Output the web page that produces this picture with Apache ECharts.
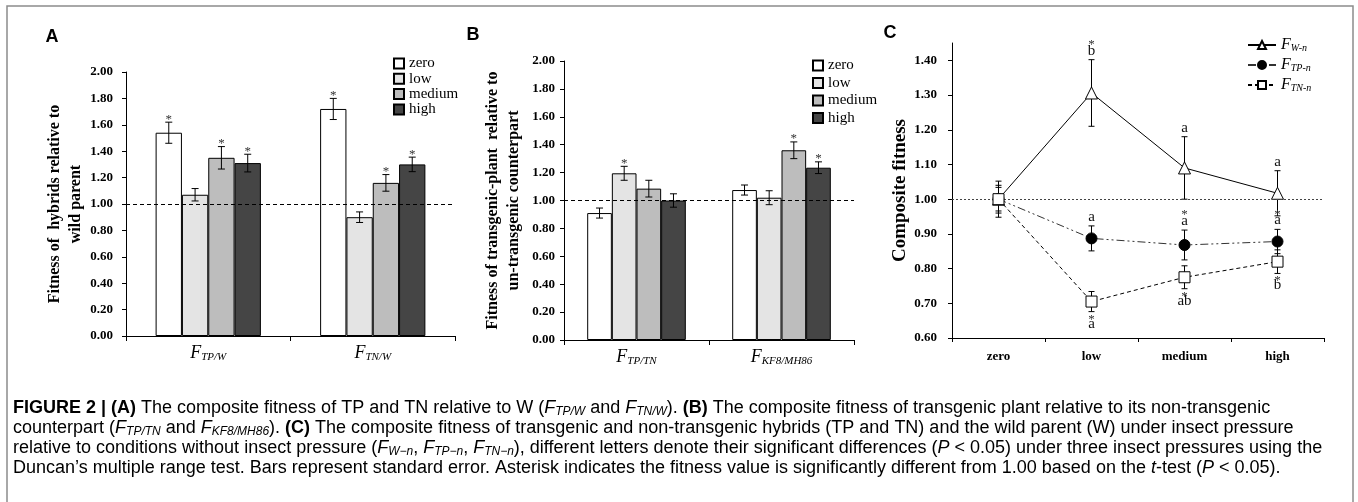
<!DOCTYPE html>
<html>
<head>
<meta charset="utf-8">
<script src="https://cdn.jsdelivr.net/npm/echarts@6/dist/echarts.min.js"></script>
<style>
  html, body { margin: 0; padding: 0; background: #fff; }
  #main { width: 1358px; height: 502px; }
</style>
</head>
<body>
<div id="main"></div>
<script>
// insect pressure levels (bar groups in A and B, x categories in C)
const levels = ['zero', 'low', 'medium', 'high'];
const levelColors = ['#ffffff', '#e4e4e4', '#bdbdbd', '#454545'];

// panel A: rows follow levels, columns follow catsA
const catsA = ['TP/W', 'TN/W'];
const fitA  = [[1.54, 1.72], [1.07, 0.90], [1.35, 1.16], [1.31, 1.30]];
const errA  = [[0.08, 0.08], [0.047, 0.04], [0.085, 0.063], [0.067, 0.055]];
const starA = [[1, 1], [0, 0], [1, 1], [1, 1]];

// panel B
const catsB = ['TP/TN', 'KF8/MH86'];
const fitB  = [[0.91, 1.075], [1.195, 1.02], [1.085, 1.36], [1.00, 1.235]];
const errB  = [[0.036, 0.036], [0.05, 0.05], [0.06, 0.06], [0.048, 0.042]];
const starB = [[0, 0], [1, 0], [0, 1], [0, 1]];

// panel C
const namesC = ['W-n', 'TP-n', 'TN-n'];
const fitW = [1.00, 1.306, 1.09, 1.017];
const errW = [0.052, 0.096, 0.09, 0.065];
const letW = ['', 'b', 'a', 'a'];
const starW = [0, 1, 0, 0];
const fitTP = [1.00, 0.887, 0.868, 0.878];
const errTP = [0.04, 0.036, 0.043, 0.035];
const letTP = ['', 'a', 'a', 'a'];
const starTP = [0, 0, 1, 1];
const fitTN = [1.00, 0.705, 0.775, 0.82];
const errTN = [0.034, 0.029, 0.033, 0.034];
const letTN = ['', 'a', 'ab', 'b'];
const starTN = [0, 1, 1, 1];

const yTicksC = [0.6, 0.7, 0.8, 0.9, 1.0, 1.1, 1.2, 1.3, 1.4];

const SERIF = '"Liberation Serif", "Times New Roman", serif';
const SANS = '"Liberation Sans", Arial, sans-serif';

var chart = echarts.init(document.getElementById('main'));

const subRich = {
    f: { fontFamily: SERIF, fontStyle: 'italic', fontSize: 18, lineHeight: 20, color: '#000' },
    s: { fontFamily: SERIF, fontStyle: 'italic', fontSize: 11, lineHeight: 10, verticalAlign: 'bottom', color: '#000' }
};

function barAxes(gi, cats, name, nameGap, labelMargin) {
    const x = {
        gridIndex: gi, type: 'category', data: cats,
        axisLine: { show: true, lineStyle: { color: '#000', width: 1 } },
        axisTick: { show: true, length: 5, lineStyle: { color: '#000' } },
        axisLabel: { margin: 7, formatter: v => '{f|F}{s|' + v + '}', rich: subRich },
        splitLine: { show: false }
    };
    const y = {
        gridIndex: gi, type: 'value', min: 0, max: 2, interval: 0.2,
        axisLine: { show: true, lineStyle: { color: '#000', width: 1 } },
        axisTick: { show: true, length: 4, lineStyle: { color: '#000' } },
        splitLine: { show: false },
        axisLabel: { margin: labelMargin, formatter: v => v.toFixed(2), color: '#000',
            fontFamily: SERIF, fontWeight: 'bold', fontSize: 13 },
        name: name, nameLocation: 'middle', nameRotate: 90, nameGap: nameGap,
        nameTextStyle: { fontFamily: SERIF, fontWeight: 'bold', fontSize: 16, lineHeight: 21, color: '#000' }
    };
    return [x, y];
}

function barSeries(gi, fits, gap) {
    return fits.map((row, g) => {
        const s = {
            name: levels[g], type: 'bar', xAxisIndex: gi, yAxisIndex: gi,
            data: row, barGap: '0%', barCategoryGap: gap,
            itemStyle: { color: levelColors[g], borderColor: '#000', borderWidth: 1 },
            silent: true
        };
        if (g === 0) {
            s.markLine = {
                silent: true, symbol: ['none', 'none'], label: { show: false },
                lineStyle: { color: '#000', width: 1, type: [4, 3] },
                data: [{ yAxis: 1 }]
            };
        }
        return s;
    });
}

function barErrors(gi, fits, errs, stars, gap) {
    const data = [];
    fits.forEach((row, g) => row.forEach((v, c) => data.push([c, v, errs[g][c], stars[g][c], g])));
    const ratio = 1 - parseFloat(gap) / 100;
    return {
        type: 'custom', xAxisIndex: gi, yAxisIndex: gi, z: 5, silent: true, data: data,
        encode: { x: 0, y: 1 },
        renderItem: function (params, api) {
            const c = api.value(0), v = api.value(1), e = api.value(2), s = api.value(3), g = api.value(4);
            const bw = api.size([1, 0])[0] * ratio / 4;
            const x = api.coord([c, v])[0] + (g - 1.5) * bw;
            const top = api.coord([c, v + e])[1], bot = api.coord([c, v - e])[1];
            const st = { stroke: '#000', lineWidth: 1 };
            const kids = [
                { type: 'line', shape: { x1: x, y1: top, x2: x, y2: bot }, style: st },
                { type: 'line', shape: { x1: x - 3.5, y1: top, x2: x + 3.5, y2: top }, style: st },
                { type: 'line', shape: { x1: x - 3.5, y1: bot, x2: x + 3.5, y2: bot }, style: st }
            ];
            if (s) {
                kids.push({ type: 'text', x: x, y: top - 3,
                    style: { text: '*', textAlign: 'center', textVerticalAlign: 'middle',
                        font: '13px ' + SERIF, fill: '#333' } });
            }
            return { type: 'group', children: kids };
        }
    };
}

function lineErrors(vals, errs, lets, stars, below, z) {
    return {
        type: 'custom', xAxisIndex: 2, yAxisIndex: 2, z: z, silent: true,
        data: vals.map((v, i) => [i, v, errs[i]]),
        encode: { x: 0, y: 1 },
        renderItem: function (params, api) {
            const i = params.dataIndex;
            const v = api.value(1), e = api.value(2);
            const x = api.coord([api.value(0), v])[0];
            const top = api.coord([0, v + e])[1], bot = api.coord([0, v - e])[1];
            const st = { stroke: '#000', lineWidth: 1 };
            const kids = [
                { type: 'line', shape: { x1: x, y1: top, x2: x, y2: bot }, style: st },
                { type: 'line', shape: { x1: x - 3, y1: top, x2: x + 3, y2: top }, style: st },
                { type: 'line', shape: { x1: x - 3, y1: bot, x2: x + 3, y2: bot }, style: st }
            ];
            const letterY = below ? bot + 12 : top - 9;
            const starY = below ? bot + 7.5 : top - 15;
            if (lets[i]) {
                kids.push({ type: 'text', x: x, y: letterY,
                    style: { text: lets[i], textAlign: 'center', textVerticalAlign: 'middle',
                        font: '15px ' + SERIF, fill: '#111' } });
            }
            if (stars[i]) {
                kids.push({ type: 'text', x: x, y: starY,
                    style: { text: '*', textAlign: 'center', textVerticalAlign: 'middle',
                        font: '13px ' + SERIF, fill: '#333' } });
            }
            return { type: 'group', children: kids };
        }
    };
}

const [xA, yA] = barAxes(0, catsA, 'Fitness of  hybrids relative to\nwild parent', 31, 13);
const [xB, yB] = barAxes(1, catsB, 'Fitness of transgenic-plant  relative to\nun-transgenic counterpart', 40, 9);

const xC = {
    gridIndex: 2, type: 'category', data: levels,
    axisLine: { show: true, lineStyle: { color: '#000', width: 1 } },
    axisTick: { show: true, length: 4, lineStyle: { color: '#000' } },
    axisLabel: { margin: 12, color: '#000', fontFamily: SERIF, fontWeight: 'bold', fontSize: 13 },
    splitLine: { show: false }
};
const yC = {
    gridIndex: 2, type: 'value', min: 0.6, max: 1.45, interval: 0.1,
    axisLine: { show: true, lineStyle: { color: '#000', width: 1 } },
    axisTick: { show: true, length: 4, lineStyle: { color: '#000' }, customValues: yTicksC },
    splitLine: { show: false },
    axisLabel: { margin: 15, color: '#000', fontFamily: SERIF, fontWeight: 'bold', fontSize: 13,
        customValues: yTicksC, formatter: v => (v > 1.42 ? '' : v.toFixed(2)) },
    name: 'Composite fitness', nameLocation: 'middle', nameRotate: 90, nameGap: 42,
    nameTextStyle: { fontFamily: SERIF, fontWeight: 'bold', fontSize: 19, color: '#000' }
};

const capRich = {
    n: { fontFamily: SANS, fontSize: 18, lineHeight: 20, color: '#222' },
    b: { fontFamily: SANS, fontSize: 18, lineHeight: 20, fontWeight: 'bold', color: '#222' },
    i: { fontFamily: SANS, fontSize: 18, lineHeight: 20, fontStyle: 'italic', color: '#222' },
    s: { fontFamily: SANS, fontSize: 12, lineHeight: 12, fontStyle: 'italic', verticalAlign: 'bottom', color: '#222' }
};
const captionLines = [
    '{b|FIGURE 2 | (A)}{n| The composite fitness of TP and TN relative to W (}{i|F}{s|TP/W}{n| and }{i|F}{s|TN/W}{n|). }{b|(B)}{n| The composite fitness of transgenic plant relative to its non-transgenic}',
    '{n|counterpart (}{i|F}{s|TP/TN}{n| and }{i|F}{s|KF8/MH86}{n|). }{b|(C)}{n| The composite fitness of transgenic and non-transgenic hybrids (TP and TN) and the wild parent (W) under insect pressure}',
    '{n|relative to conditions without insect pressure (}{i|F}{s|W\u2212n}{n|, }{i|F}{s|TP\u2212n}{n|, }{i|F}{s|TN\u2212n}{n|), different letters denote their significant differences (}{i|P}{n| < 0.05) under three insect pressures using the}',
    '{n|Duncan\u2019s multiple range test. Bars represent standard error. Asterisk indicates the fitness value is significantly different from 1.00 based on the }{i|t}{n|-test (}{i|P}{n| < 0.05).}'
];

const graphics = [
    { type: 'rect', silent: true, shape: { x: 7, y: 6, width: 1346, height: 520 },
      style: { fill: 'none', stroke: '#8c8c8c', lineWidth: 1.5 } },
    { type: 'text', x: 52, y: 37, style: { text: 'A', font: 'bold 18px ' + SANS, textAlign: 'center', textVerticalAlign: 'middle', fill: '#000' } },
    { type: 'text', x: 473, y: 35, style: { text: 'B', font: 'bold 18px ' + SANS, textAlign: 'center', textVerticalAlign: 'middle', fill: '#000' } },
    { type: 'text', x: 890, y: 33, style: { text: 'C', font: 'bold 18px ' + SANS, textAlign: 'center', textVerticalAlign: 'middle', fill: '#000' } }
];
captionLines.forEach((t, i) => {
    graphics.push({ type: 'text', x: 13, y: 408 + i * 20,
        style: { text: t, rich: capRich, textAlign: 'left', textVerticalAlign: 'middle' } });
});

const barLegend = (left, top, gap) => ({
    data: levels, left: left, top: top, orient: 'vertical', padding: 0,
    itemWidth: 10, itemHeight: 10, itemGap: gap, icon: 'rect', selectedMode: false,
    textStyle: { fontFamily: SERIF, fontSize: 15, lineHeight: 15, color: '#000' }
});

const option = {
    animation: false,
    backgroundColor: '#fff',
    grid: [
        { left: 126, top: 72, width: 329, height: 264, containLabel: false, outerBoundsMode: 'none' },
        { left: 564, top: 61, width: 290, height: 279, containLabel: false, outerBoundsMode: 'none' },
        { left: 952, top: 43, width: 372, height: 295, containLabel: false, outerBoundsMode: 'none' }
    ],
    xAxis: [xA, xB, xC],
    yAxis: [yA, yB, yC],
    legend: [
        barLegend(393, 56, 0.3),
        barLegend(812, 58, 2.5),
        {
            data: namesC, left: 1247, top: 37, orient: 'vertical', padding: 0,
            itemWidth: 28, itemHeight: 10, itemGap: 4, selectedMode: false,
            formatter: n => '{f|F}{s|' + n + '}',
            textStyle: { rich: {
                f: { fontFamily: SERIF, fontStyle: 'italic', fontSize: 16, lineHeight: 16, color: '#000' },
                s: { fontFamily: SERIF, fontStyle: 'italic', fontSize: 10, lineHeight: 9, verticalAlign: 'bottom', color: '#000' }
            } }
        }
    ],
    graphic: graphics,
    series: [].concat(
        barSeries(0, fitA, '36%'),
        [barErrors(0, fitA, errA, starA, '36%')],
        barSeries(1, fitB, '32%'),
        [barErrors(1, fitB, errB, starB, '32%')],
        [
            {
                name: namesC[0], type: 'line', xAxisIndex: 2, yAxisIndex: 2, data: fitW, z: 3,
                symbol: 'triangle', symbolSize: 12, silent: true,
                itemStyle: { color: '#fff', borderColor: '#000', borderWidth: 1 },
                lineStyle: { color: '#000', width: 1 },
                markLine: {
                    silent: true, symbol: ['none', 'none'], label: { show: false },
                    lineStyle: { color: '#444', width: 1, type: [2, 2] },
                    data: [{ yAxis: 1 }]
                }
            },
            {
                name: namesC[1], type: 'line', xAxisIndex: 2, yAxisIndex: 2, data: fitTP, z: 4,
                symbol: 'circle', symbolSize: 11, silent: true,
                itemStyle: { color: '#000', borderColor: '#000', borderWidth: 1 },
                lineStyle: { color: '#333', width: 1, type: [8, 3, 2, 3, 2, 3] }
            },
            {
                name: namesC[2], type: 'line', xAxisIndex: 2, yAxisIndex: 2, data: fitTN, z: 5,
                symbol: 'rect', symbolSize: 11, silent: true,
                itemStyle: { color: '#fff', borderColor: '#000', borderWidth: 1 },
                lineStyle: { color: '#000', width: 1, type: [4, 3] }
            },
            lineErrors(fitW, errW, letW, starW, false, 1),
            lineErrors(fitTP, errTP, letTP, starTP, false, 1),
            lineErrors(fitTN, errTN, letTN, starTN, true, 1)
        ]
    )
};

chart.setOption(option);
</script>
</body>
</html>
